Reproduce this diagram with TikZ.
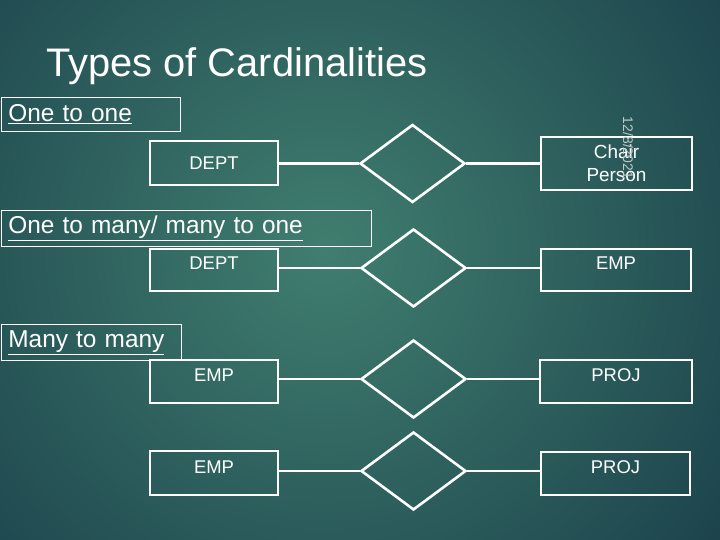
\documentclass[tikz,border=0pt]{standalone}
\usepackage{fontspec}
\setmainfont{Liberation Sans}
\usepackage{tikz}
\usetikzlibrary{shapes.geometric}

\definecolor{bgin}{RGB}{64,126,111}
\definecolor{bgout}{RGB}{20,54,69}
\definecolor{datecol}{RGB}{190,200,200}

\tikzset{
  entity/.style={draw=white, line width=2.6bp, minimum width=128bp, minimum height=44bp, inner sep=0pt, text=white, font=\fontsize{18.5}{23}\selectfont},
  topentity/.style={entity, text height=13bp, text depth=13bp},
  relship/.style={draw=white, line width=2.6bp, diamond, minimum width=105bp, minimum height=78bp, inner sep=0pt},
  link/.style={draw=white, line width=2.6bp},
  heading/.style={draw=white, line width=0.8bp, anchor=north west, inner xsep=7bp, inner ysep=0pt, align=left, text=white, font=\fontsize{24.5}{28}\selectfont},
}

\begin{document}
\begin{tikzpicture}[x=1bp, y=-1bp]
                \useasboundingbox (0,0) rectangle (720,540);
                \begin{scope}
                \clip (0,0) rectangle (720,540);
                \shade[inner color=bgin, outer color=bgout] (325,250) circle (600bp);
                \end{scope}
                \node[anchor=base west, inner sep=0pt, text=white, font=\fontsize{40}{46}\selectfont] (title) at (46,77) {Types of Cardinalities};
                % one to one
                \node[heading, text width=165bp, minimum height=34bp] (h1) at (1,97) {\underline{One to one}};
                \node[entity] (dept1) at (214,163) {DEPT};
                \node[relship] (rel1) at (412.5,163.5) {};
                \node[entity, minimum width=151bp, minimum height=53bp, align=center, font=\fontsize{19}{23}\selectfont] (chair) at (616.5,163.5) {Chair\\Person};
                \draw[link] (rel1.west) -- (rel1.west -| dept1.east);
                \draw[link] (rel1.east) -- (rel1.east -| chair.west);
                \node[rotate=-90, inner sep=0pt, text=datecol, font=\fontsize{14}{16}\selectfont] (date) at (628,148) {12/8/2021};
                % one to many
                \node[heading, text width=356bp, minimum height=36bp] (h2) at (1,210) {\underline{One to many/ many to one}};
                \node[topentity, minimum height=42bp] (dept2) at (214,270) {DEPT};
                \node[relship] (rel2) at (413.5,268) {};
                \node[topentity, minimum width=150bp, minimum height=42bp] (emp2) at (616,270) {EMP};
                \draw[link] (rel2.west) -- (rel2.west -| dept2.east);
                \draw[link] (rel2.east) -- (rel2.east -| emp2.west);
                % many to many
                \node[heading, text width=166bp, minimum height=36bp] (h3) at (1,324) {\underline{Many to many}};
                \node[topentity, minimum height=43bp] (emp3) at (214,381.5) {EMP};
                \node[relship] (rel3) at (413.5,379) {};
                \node[topentity, minimum width=152bp, minimum height=43bp] (proj3) at (616,381.5) {PROJ};
                \draw[link] (rel3.west) -- (rel3.west -| emp3.east);
                \draw[link] (rel3.east) -- (rel3.east -| proj3.west);
                \node[topentity] (emp4) at (214,473) {EMP};
                \node[relship] (rel4) at (413.5,471) {};
                \node[topentity, minimum width=149bp, minimum height=43bp] (proj4) at (615.5,473.5) {PROJ};
                \draw[link] (rel4.west) -- (rel4.west -| emp4.east);
                \draw[link] (rel4.east) -- (rel4.east -| proj4.west);
            \end{tikzpicture}
\end{document}
